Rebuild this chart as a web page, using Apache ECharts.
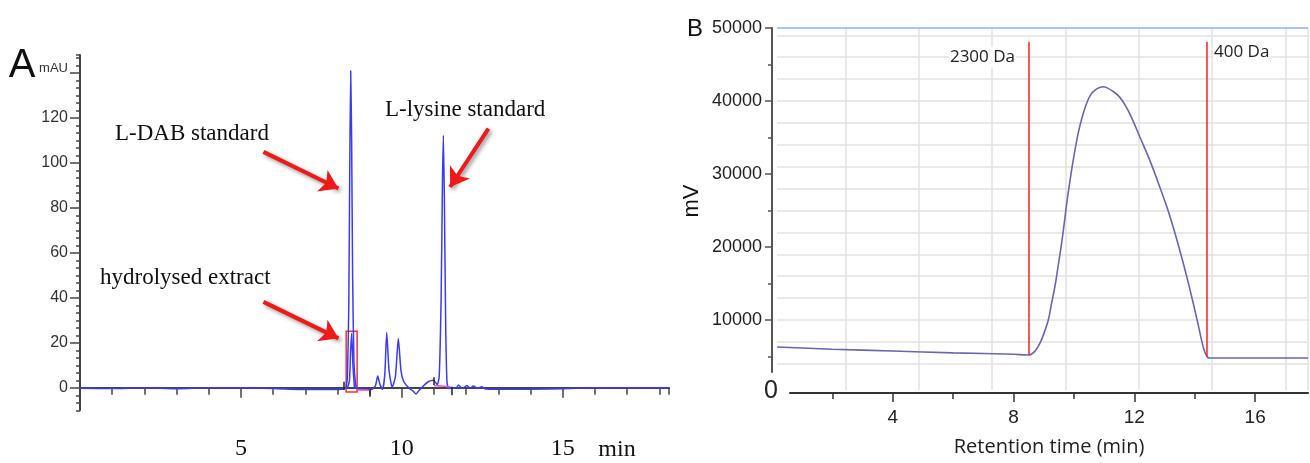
<!DOCTYPE html>
<html>
<head>
<meta charset="utf-8">
<script src="https://cdn.jsdelivr.net/npm/echarts@6/dist/echarts.min.js"></script>
<style>
  html, body { margin: 0; padding: 0; background: #fff; }
  #main { width: 1310px; height: 463px; }
</style>
</head>
<body>
<div id="main"></div>
<script>
// ---- panel A : HPLC chromatogram (min, mAU) ----
var aTime = [0, 1, 2, 3, 4, 5, 6, 7, 7.8, 8.2, 8.27, 8.31, 8.35, 8.38, 8.41, 8.44, 8.47, 8.51, 8.56, 8.62,
  8.8, 9.05, 9.18, 9.25, 9.32, 9.4, 9.47, 9.53, 9.6, 9.7, 9.8, 9.89, 9.97, 10.05, 10.2, 10.35, 10.44, 10.53,
  10.62, 10.82, 10.98, 11.1, 11.16, 11.22, 11.26, 11.29, 11.32, 11.36, 11.4, 11.45, 11.55, 11.68, 11.76,
  11.88, 12.02, 12.12, 12.22, 12.35, 12.48, 12.6, 13, 14, 15, 16, 17, 18.3];
var aSignal = [-0.2, -0.3, 0, -0.4, 0, 0, -0.3, -0.8, -0.8, -0.5, 0.5, 6, 35, 95, 141, 110, 50, 12, 2, -0.5,
  -0.7, -0.8, 1, 5.2, 1.5, -0.6, 6, 24.6, 8, 0.2, 5, 21.9, 8, 3, 0.2, -1.5, -2.8, -1.2,
  0.2, 2.7, 3.4, 1.5, 5, 40, 90, 112.3, 85, 30, 3, -0.3, 0.3, -0.2, 1.2,
  -0.3, 1, -0.3, 0.8, -0.3, 0.5, -0.5, -0.6, -0.6, -0.4, 0, 0, 0];
// hydrolysed extract peak (inside the red box)
var extTime = [8.3, 8.37, 8.41, 8.44, 8.48, 8.53];
var extSignal = [-0.3, 3, 17, 24.2, 10, -0.5];
var aYLabels = [0, 20, 40, 60, 80, 100, 120, 140];
var aXLabels = [5, 10, 15];

// ---- panel B : GPC (min, mV) ----
var bTime = [0.17, 2, 4, 6, 8, 8.5, 8.7, 8.87, 9.0, 9.15, 9.25, 9.37, 9.48, 9.59, 9.68, 9.76, 9.84, 9.92,
  10.03, 10.14, 10.28, 10.42, 10.56, 10.7, 10.85, 10.97, 11.1, 11.3, 11.5, 11.7, 11.9, 12.2, 12.5, 12.8,
  13.1, 13.4, 13.7, 13.95, 14.1, 14.28, 14.4, 14.5, 16, 17.75];
var bSignal = [6300, 6000, 5750, 5500, 5300, 5200, 5700, 6800, 8100, 10000, 12100, 14600, 17500, 20500,
  23300, 26000, 28300, 30500, 33200, 35600, 37900, 39700, 40900, 41500, 41850, 41950, 41800, 41300, 40600,
  39400, 37800, 34900, 32000, 28700, 25200, 21100, 16500, 12300, 9600, 6300, 5000, 4800, 4800, 4800];
var bYLabels = [10000, 20000, 30000, 40000, 50000];
var bYMinor = [5000, 15000, 25000, 35000, 45000];
var bXTicks = [2, 4, 6, 8, 10, 12, 14, 16];
var bXLabels = [4, 8, 12, 16];
var cutTimes = [8.5, 14.4];      // 2300 Da, 400 Da
var cutBottoms = [5200, 4950];

var myChart = echarts.init(document.getElementById('main'));

var red = '#ee1a1a';
var arrowStyle = { color: red, width: 4, type: 'solid', shadowBlur: 4, shadowColor: 'rgba(0,0,0,0.45)', shadowOffsetX: 2, shadowOffsetY: 2 };
var thin = function (c) { return { color: c, width: 1.5, type: 'solid', shadowBlur: 0 }; };
var seg = function (x1, y1, x2, y2, style, arrow) {
  return [{ coord: [x1, y1], symbol: 'none', lineStyle: style },
          { coord: [x2, y2], symbol: arrow ? 'arrow' : 'none', symbolSize: 18, lineStyle: style }];
};
var plain = function (v) { return String(v); };
var gridCol = '#e2e2e2';

var option = {
  animation: false,
  backgroundColor: '#fff',
  grid: [
    { left: 80, top: 55, width: 589, height: 355.3 },   // A
    { left: 772, top: 28, width: 536, height: 365 },    // B data
    { left: 777, top: 35.3, width: 533, height: 328.5 },// B horizontal grid
    { left: 772, top: 28, width: 536, height: 362 },    // B vertical grid
    { left: 772, top: 28, width: 10, height: 344 },     // B y axis
    { left: 790, top: 300, width: 518, height: 93 }     // B x axis
  ],
  xAxis: [
    { gridIndex: 0, type: 'value', position: 'bottom', min: 0, max: 18.3, interval: 1,
      axisLine: { lineStyle: { color: '#444', width: 2 } },
      axisTick: { length: 7, lineStyle: { color: '#444', width: 1.5 } },
      axisLabel: { show: false }, splitLine: { show: false } },
    { gridIndex: 0, type: 'value', position: 'bottom', min: 0, max: 18.3,
      axisLine: { show: false },
      axisTick: { customValues: aXLabels, length: 10, lineStyle: { color: '#444', width: 1.5 } },
      axisLabel: { customValues: aXLabels, margin: 26, color: '#111', fontSize: 24, fontFamily: '"Liberation Serif", serif' },
      splitLine: { show: false } },
    { gridIndex: 1, type: 'value', min: 0, max: 17.75, show: false },
    { gridIndex: 2, type: 'value', min: 0, max: 1, show: false },
    { gridIndex: 3, type: 'value', min: 0, max: 7.31, interval: 1,
      axisLine: { show: false }, axisTick: { show: false }, axisLabel: { show: false },
      splitLine: { show: true, showMinLine: false, lineStyle: { color: gridCol, width: 1.5 } } },
    { gridIndex: 4, type: 'value', min: 0, max: 1, show: false },
    { gridIndex: 5, type: 'value', position: 'bottom', min: 0.596, max: 17.75,
      axisLine: { lineStyle: { color: '#333', width: 2 } },
      axisTick: { customValues: bXTicks, length: 6, lineStyle: { color: '#333', width: 1.5 } },
      axisLabel: { show: false }, splitLine: { show: false } },
    { gridIndex: 5, type: 'value', position: 'bottom', min: 0.596, max: 17.75,
      axisLine: { show: false },
      axisTick: { customValues: bXLabels, length: 9, lineStyle: { color: '#333', width: 1.5 } },
      axisLabel: { customValues: bXLabels, margin: 15, color: '#222', fontSize: 19, fontFamily: '"Liberation Sans", Arial, sans-serif' },
      name: 'Retention time (min)', nameLocation: 'middle', nameGap: 44,
      nameTextStyle: { fontSize: 20, color: '#222', fontFamily: '"Open Sans", sans-serif' },
      splitLine: { show: false } }
  ],
  yAxis: [
    { gridIndex: 0, type: 'value', position: 'left', min: -10, max: 148, interval: 10 / 3,
      axisLine: { show: true, lineStyle: { color: '#444', width: 2 } },
      axisTick: { show: true, length: 4, lineStyle: { color: '#444', width: 1.5 } },
      axisLabel: { show: false }, splitLine: { show: false } },
    { gridIndex: 0, type: 'value', position: 'left', min: -10, max: 148,
      axisLine: { show: false },
      axisTick: { show: true, customValues: aYLabels, length: 10, lineStyle: { color: '#444', width: 1.5 } },
      axisLabel: { customValues: aYLabels, margin: 12, color: '#333', fontSize: 16,
        fontFamily: '"Liberation Sans Narrow", "Arial Narrow", sans-serif',
        formatter: function (v) { return v === 140 ? '{u|mAU}' : String(v); },
        rich: { u: { fontSize: 13, color: '#333', padding: [0, 0, 9, 0],
          fontFamily: '"Liberation Sans Narrow", "Arial Narrow", sans-serif' } } },
      splitLine: { show: false } },
    { gridIndex: 1, type: 'value', min: 0, max: 50000, show: false },
    { gridIndex: 2, type: 'value', min: 0, max: 15, interval: 1,
      axisLine: { show: false }, axisTick: { show: false }, axisLabel: { show: false },
      splitLine: { show: true, lineStyle: { color: gridCol, width: 1.5 } } },
    { gridIndex: 3, type: 'value', min: 0, max: 1, show: false },
    { gridIndex: 4, type: 'value', position: 'left', min: 2877, max: 50000,
      axisLine: { show: true, lineStyle: { color: '#555', width: 2 } },
      axisTick: { show: true, customValues: bYMinor, length: 4, lineStyle: { color: '#555', width: 1.5 } },
      axisLabel: { show: false }, splitLine: { show: false } },
    { gridIndex: 4, type: 'value', position: 'left', min: 2877, max: 50000,
      axisLine: { show: false },
      axisTick: { show: true, customValues: bYLabels, length: 7, lineStyle: { color: '#555', width: 1.5 } },
      axisLabel: { customValues: bYLabels, margin: 10, color: '#222', fontSize: 18, formatter: plain,
        fontFamily: '"Liberation Sans", Arial, sans-serif' },
      splitLine: { show: false } },
    { gridIndex: 5, type: 'value', min: 0, max: 1, show: false }
  ],
  series: [
    {
      name: 'chromatogram', type: 'line', xAxisIndex: 0, yAxisIndex: 0,
      data: aTime.map(function (t, i) { return [t, aSignal[i]]; }),
      showSymbol: false, smooth: 0.2, z: 3,
      lineStyle: { color: '#3b3bf2', width: 1.5 },
      markArea: {
        silent: true,
        itemStyle: { color: 'rgba(0,0,0,0)', borderColor: '#ee3333', borderWidth: 1.5 },
        data: [[{ coord: [8.27, 25.2] }, { coord: [8.61, -1.9] }]]
      },
      markLine: {
        silent: true, symbol: ['none', 'none'], label: { show: false },
        data: [
          seg(5.70, 104.9, 8.03, 88.6, arrowStyle, true),
          seg(5.70, 38.2, 8.03, 22.0, arrowStyle, true),
          seg(12.69, 115.3, 11.50, 89.3, arrowStyle, true),
          seg(8.6, -0.7, 9.0, -0.7, thin('#ff44dd')),
          seg(11.0, 1.0, 11.5, 0.5, thin('#ff44dd')),
          seg(8.18, 2.7, 8.18, -1.0, thin('#222')),
          seg(8.99, -0.7, 8.99, -4.0, thin('#222')),
          seg(11.0, 4.7, 11.0, 1.2, thin('#222')),
          seg(11.55, 0.3, 11.55, -3.3, thin('#222'))
        ]
      }
    },
    {
      name: 'hydrolysed extract', type: 'line', xAxisIndex: 0, yAxisIndex: 0,
      data: extTime.map(function (t, i) { return [t, extSignal[i]]; }),
      showSymbol: false, smooth: 0.2, z: 3,
      lineStyle: { color: '#3b3bf2', width: 1.5 }
    },
    {
      name: 'GPC', type: 'line', xAxisIndex: 2, yAxisIndex: 2,
      data: bTime.map(function (t, i) { return [t, bSignal[i]]; }),
      showSymbol: false, smooth: 0.3, z: 4,
      lineStyle: { color: '#6767ae', width: 1.6 },
      markLine: {
        silent: true, symbol: ['none', 'none'], label: { show: false },
        data: [
          seg(0.17, 50000, 17.75, 50000, thin('#96aef0')),
          seg(cutTimes[0], cutBottoms[0], cutTimes[0], 48100, thin('#ff2020')),
          seg(cutTimes[1], cutBottoms[1], cutTimes[1], 48100, thin('#ff2020'))
        ]
      }
    }
  ],
  graphic: [
    { type: 'text', x: 22, y: 66, style: { text: 'A', font: '40px "Liberation Sans", Arial', fill: '#111', align: 'center', verticalAlign: 'middle' } },
    { type: 'text', x: 115, y: 134, style: { text: 'L-DAB standard', font: '23px "Liberation Serif", serif', fill: '#111', align: 'left', verticalAlign: 'middle' } },
    { type: 'text', x: 100, y: 278, style: { text: 'hydrolysed extract', font: '23px "Liberation Serif", serif', fill: '#111', align: 'left', verticalAlign: 'middle' } },
    { type: 'text', x: 385, y: 110, style: { text: 'L-lysine standard', font: '23px "Liberation Serif", serif', fill: '#111', align: 'left', verticalAlign: 'middle' } },
    { type: 'text', x: 617, y: 450, style: { text: 'min', font: '24px "Liberation Serif", serif', fill: '#111', align: 'center', verticalAlign: 'middle' } },
    { type: 'text', x: 695, y: 29, style: { text: 'B', font: '24px "Liberation Sans", Arial', fill: '#111', align: 'center', verticalAlign: 'middle' } },
    { type: 'text', x: 692, y: 201, rotation: Math.PI / 2, style: { text: 'mV', font: '22px "Liberation Sans", Arial', fill: '#111', align: 'center', verticalAlign: 'middle' } },
    { type: 'text', x: 771, y: 391, style: { text: '0', font: '25px "Liberation Sans", Arial', fill: '#222', align: 'center', verticalAlign: 'middle' } },
    { type: 'text', x: 1016, y: 57, z: 10, style: { text: '2300 Da', font: '17px "Open Sans", sans-serif', fill: '#222', align: 'right', verticalAlign: 'middle', backgroundColor: '#fff', padding: [2, 1] } },
    { type: 'text', x: 1213, y: 52, z: 10, style: { text: '400 Da', font: '17px "Open Sans", sans-serif', fill: '#222', align: 'left', verticalAlign: 'middle', backgroundColor: '#fff', padding: [2, 1] } }
  ]
};
myChart.setOption(option);
</script>
</body>
</html>
